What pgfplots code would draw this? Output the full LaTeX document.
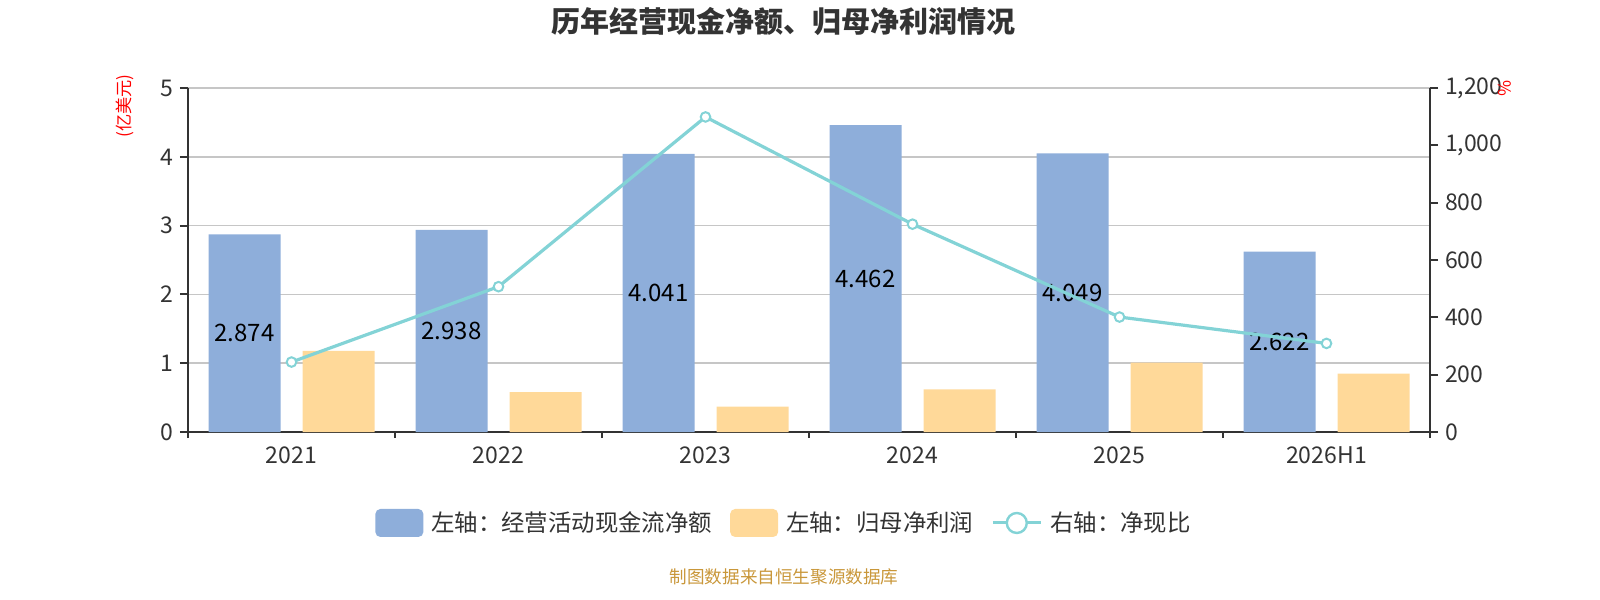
\documentclass[border=0pt]{standalone}
\usepackage{fontspec}
\setmainfont{Noto Sans CJK SC}
\usepackage{pgfplots}
\pgfplotsset{compat=1.18}
\definecolor{cblue}{HTML}{8EAEDA}
\definecolor{corange}{HTML}{FFD999}
\definecolor{cline}{HTML}{83D3D6}
\definecolor{caxis}{HTML}{333333}
\definecolor{cgrid}{HTML}{C6C6C6}
\definecolor{cfoot}{HTML}{C9973A}
\begin{document}
\begin{tikzpicture}
\path[use as bounding box] (0bp,0bp) rectangle (800bp,300bp);
\begin{axis}[
  at={(94bp,84bp)}, anchor=south west, scale only axis,
  width=621bp, height=172bp,
  xmin=-0.5, xmax=5.5, ymin=0, ymax=5,
  axis x line*=bottom, axis y line*=left,
  axis line style={caxis, line width=1bp, -},
  tick align=outside,
  xtick={0,...,5}, xticklabels={2021,2022,2023,2024,2025,2026H1},
  major x tick style={draw=none},
  minor xtick={-0.5,0.5,...,5.5},
  minor x tick style={caxis, line width=1bp},
  minor tick length=3bp,
  major tick length=4bp,
  ytick={0,...,5},
  y tick style={caxis, line width=1bp},
  ymajorgrids, major grid style={cgrid, line width=0.8bp},
  tick label style={font=\fontsize{11.5bp}{13bp}\selectfont, text=caxis},
  /pgf/number format/assume math mode=true,
  clip=false,
  legend style={at={(0.4807,-0.2645)}, anchor=center, draw=none, fill=none,
    legend columns=-1, font=\fontsize{11.7bp}{13bp}\selectfont, text=caxis,
    /tikz/every odd column/.append style={column sep=2bp},
    /tikz/every even column/.append style={column sep=7bp}},
]
\addplot[ybar, bar width=36bp, bar shift=-23.5bp, fill=cblue, draw=none,
  legend image code/.code={\fill[cblue, rounded corners=2.5bp] (0bp,-7bp) rectangle (24bp,7bp);},
  nodes near coords={\pgfmathprintnumber[fixed, precision=3, fixed zerofill]{\pgfplotspointmeta}},
  visualization depends on={rawy \as \rawy},
  every node near coord/.append style={anchor=center, text=black,
    font=\fontsize{12bp}{14bp}\selectfont, xshift=-23.5bp,
    shift={(axis direction cs:0,-\rawy/2)}},
] coordinates {(0,2.874) (1,2.938) (2,4.041) (3,4.462) (4,4.049) (5,2.622)};
\addlegendentry{左轴：经营活动现金流净额}
\addplot[ybar, bar width=36bp, bar shift=23.5bp, fill=corange, draw=none,
  legend image code/.code={\fill[corange, rounded corners=2.5bp] (0bp,-7bp) rectangle (24bp,7bp);},
] coordinates {(0,1.18) (1,0.58) (2,0.37) (3,0.62) (4,1.01) (5,0.85)};
\addlegendentry{左轴：归母净利润}
\addlegendimage{legend image code/.code={\draw[cline, line width=1.5bp] (0bp,0bp) -- (24bp,0bp); \draw[cline, line width=1.2bp, fill=white] (12bp,0bp) circle (5bp);}}
\addlegendentry{右轴：净现比}
\node[rotate=90, text=red, font=\fontsize{8.6bp}{10bp}\selectfont] at (axis description cs:-0.0507,0.948) {(亿美元)};
\end{axis}
\begin{axis}[
  at={(94bp,84bp)}, anchor=south west, scale only axis,
  width=621bp, height=172bp,
  xmin=-0.5, xmax=5.5, ymin=0, ymax=1200,
  axis x line=none, axis y line*=right,
  axis line style={caxis, line width=1bp, -},
  tick align=outside, major tick length=4bp,
  ytick={0,200,...,1200},
  y tick style={caxis, line width=1bp},
  tick label style={font=\fontsize{11.5bp}{13bp}\selectfont, text=caxis},
  /pgf/number format/assume math mode=true,
  /pgf/number format/1000 sep={,},
  clip=false,
]
\addplot[cline, line width=1.6bp, mark=*, mark size=2.4bp,
  mark options={fill=white, draw=cline, line width=1bp}]
  coordinates {(0,244) (1,507) (2,1099) (3,725) (4,401) (5,309)};
\node[rotate=-90, text=red, font=\fontsize{8.6bp}{10bp}\selectfont] at (axis description cs:1.0604,1) {\%};
\end{axis}
\node[font=\bfseries\fontsize{14.5bp}{17bp}\selectfont, text=caxis] at (391.5bp,289bp) {历年经营现金净额、归母净利润情况};
\node[font=\fontsize{8.8bp}{10bp}\selectfont, text=cfoot] at (392bp,11.5bp) {制图数据来自恒生聚源数据库};
\end{tikzpicture}
\end{document}
